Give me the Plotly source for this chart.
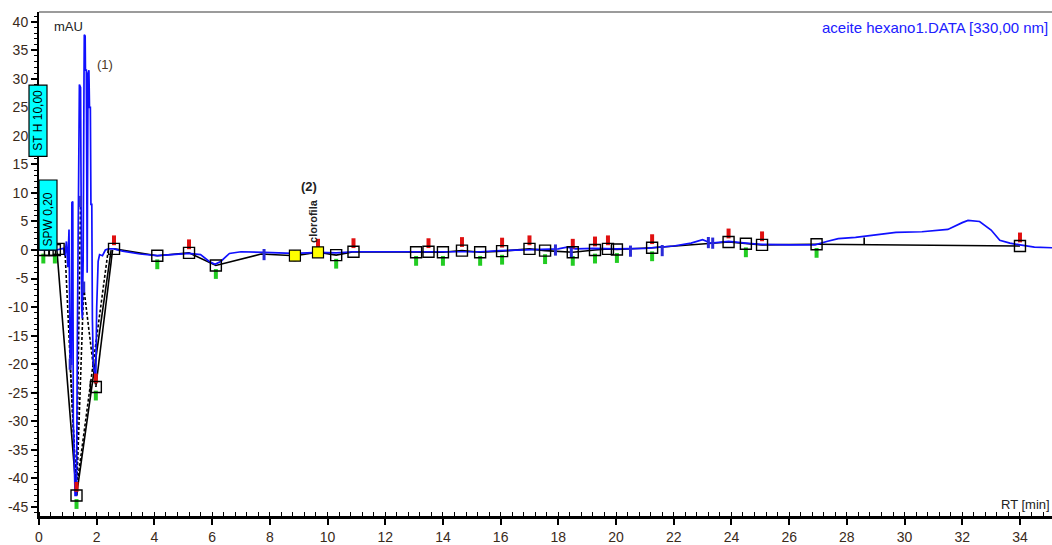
import plotly.graph_objects as go

# ---- chromatogram signal (RT in min, absorbance in mAU) ----
rt = [0.0, 0.6, 0.85, 0.90, 0.95, 1.00, 1.04, 1.05, 1.08, 1.12, 1.14, 1.17,
      1.19, 1.25, 1.30, 1.33, 1.38, 1.40, 1.44, 1.46, 1.48, 1.50, 1.53, 1.56,
      1.57, 1.60, 1.61, 1.64, 1.65, 1.67, 1.70, 1.73, 1.75, 1.78, 1.80, 1.83,
      1.85, 1.88, 1.95, 1.97, 2.00, 2.05, 2.10, 2.20, 2.30, 2.40, 2.60,
      2.9, 3.5, 4.1, 4.6, 5.2, 5.6, 5.9, 6.1, 6.3, 6.6, 7.0, 7.8,
      8.8, 9.3, 9.67, 10.3, 10.9, 12.0, 13.0, 14.0, 15.3, 16.0, 17.0, 18.0,
      18.3, 18.6, 19.2, 20.0, 21.0, 22.0, 22.6, 23.0, 23.3, 23.6, 23.9, 24.5,
      25.0, 26.0, 26.9, 27.3, 27.7, 28.3, 29.0, 29.7, 30.6, 31.5, 32.0, 32.2,
      32.6, 33.0, 33.3, 33.65, 34.0, 34.5, 35.11]
mau = [0.0, 0.0, 0.3, -1.0, 1.5, -3.0, 3.6, -9.5, -20.0, -20.0, 8.3, 8.5,
       -30.0, -43.0, -43.0, -15.0, 20.0, 29.0, 28.5, 0.0, -10.0, -12.0, -2.0, 30.0,
       37.7, 37.5, 31.5, 31.5, -4.0, -4.0, 31.0, 31.5, 25.0, 25.0, 8.0, 8.0,
       -12.0, -20.0, -22.0, -22.0, -10.0, -2.0, -0.8, -1.0, 0.0, 0.2, 0.2,
       -0.2, -0.7, -1.0, -0.8, -0.6, -0.8, -2.0, -2.5, -2.0, -0.6, -0.3, -0.4,
       -0.6, -0.5, -0.4, -0.5, -0.3, -0.3, -0.3, -0.3, -0.3, -0.1, 0.1, 0.2,
       0.5, 0.2, 0.3, 0.2, 0.3, 0.7, 1.2, 1.8, 1.2, 1.3, 1.5, 1.2,
       1.0, 0.9, 0.9, 1.5, 2.0, 2.2, 2.7, 3.1, 3.2, 3.6, 4.8, 5.2,
       5.0, 3.5, 1.7, 1.2, 0.9, 0.5, 0.4]

# ---- integration: peak start/end points and baselines ----
pt_rt = [0.15, 0.38, 0.55, 0.68, 1.30, 1.97, 2.60, 4.10, 5.20, 6.13, 10.30,
         10.90, 13.07, 13.50, 14.00, 14.66, 15.29, 16.05, 17.00, 17.54, 18.50,
         19.27, 19.72, 20.03, 21.25, 23.90, 24.50, 25.06, 26.95, 34.00]
pt_mau = [0.0, 0.0, 0.0, 0.2, -43.0, -24.0, 0.2, -1.0, -0.5, -2.7, -0.9,
          -0.3, -0.4, -0.3, -0.4, -0.1, -0.4, -0.2, 0.2, -0.1, -0.4,
          0.0, 0.2, 0.1, 0.4, 1.4, 1.1, 0.9, 1.0, 0.7]

# highlighted (identified) peak limits
hl_rt = [8.87, 9.67]
hl_mau = [-1.0, -0.4]

# baseline drawn through the integration points after the solvent front
base_rt = [2.60, 4.10, 5.20, 6.13, 7.70, 8.87, 9.67, 10.30, 10.90, 13.07, 13.50,
           14.00, 14.66, 15.29, 16.05, 17.00, 17.54, 18.50, 19.27, 19.72, 20.03,
           21.25, 23.90, 24.50, 25.06, 26.95, 34.00]
base_mau = [0.2, -1.0, -0.5, -2.7, -0.7, -1.0, -0.4, -0.9, -0.3, -0.4, -0.3,
            -0.4, -0.1, -0.4, -0.2, 0.2, -0.1, -0.4, 0.0, 0.2, 0.1,
            0.4, 1.4, 1.1, 0.9, 1.0, 0.7]

# solvent-front baselines (solid and dashed drop lines)
solid_segs = [([0.62, 1.30, 2.50], [0.0, -43.0, 0.0]),
              ([1.97, 2.55], [-24.0, 0.0])]
dash_segs = [([0.90, 1.30], [0.0, -43.0]),
             ([1.08, 1.30], [-20.0, -43.0]),
             ([1.44, 1.30], [8.5, -43.0]),
             ([1.55, 1.30], [-6.5, -43.0]),
             ([2.40, 1.35], [0.0, -40.0]),
             ([1.55, 1.97], [-6.5, -24.0])]

# peak end (red) and peak start (green) flags
end_rt = [1.30, 1.97, 2.60, 5.20, 9.67, 10.90, 13.50, 14.66, 16.05, 17.00,
          18.50, 19.27, 19.72, 21.25, 23.90, 25.06, 34.00]
end_mau = [-43.0, -24.0, 0.2, -0.5, -0.4, -0.3, -0.3, -0.1, -0.2, 0.2,
           -0.4, 0.0, 0.2, 0.4, 1.4, 0.9, 0.7]
start_rt = [0.15, 0.55, 1.30, 1.97, 4.10, 6.13, 10.30, 13.07, 14.00, 15.29,
            16.05, 17.54, 18.50, 19.27, 20.03, 21.25, 24.50, 26.95]
start_mau = [0.0, 0.0, -43.0, -24.0, -1.0, -2.7, -0.9, -0.4, -0.4, -0.4,
             -0.2, -0.1, -0.4, 0.0, 0.1, 0.4, 1.1, 1.0]

# valley / split markers
split_rt = [1.08, 1.44, 1.55, 7.80, 8.87, 17.90, 18.45, 20.50, 21.60, 23.20, 23.35]
split_mau = [-20.0, 8.5, -6.5, -0.8, -1.0, 0.0, -0.3, -0.2, -0.1, 1.3, 1.2]

# drop line under the late broad hump
drop_rt = [28.6, 28.6]
drop_mau = [1.0, 2.2]

x_ticks = list(range(0, 35, 2))
y_ticks = list(range(-45, 41, 5))
y_ticktext = [str(v) if v >= 0 else "-" + str(-v) for v in y_ticks]

FLAG_OFF = 1.5  # flag offset from the integration point, mAU

X_MAX = 35.11
Y_MIN, Y_MAX = -46.6, 41.7

fig = go.Figure()

for xs, ys in solid_segs:
    fig.add_trace(go.Scatter(x=xs, y=ys, mode="lines",
                             line=dict(color="black", width=1.6)))
for xs, ys in dash_segs:
    fig.add_trace(go.Scatter(x=xs, y=ys, mode="lines",
                             line=dict(color="black", width=1.6, dash="3px,2px")))

fig.add_trace(go.Scatter(x=base_rt, y=base_mau, mode="lines",
                         line=dict(color="black", width=1.6)))
fig.add_trace(go.Scatter(x=drop_rt, y=drop_mau, mode="lines",
                         line=dict(color="black", width=1.6)))

fig.add_trace(go.Scatter(x=rt, y=mau, mode="lines",
                         line=dict(color="#1010ff", width=1.7)))

# flags
fig.add_trace(go.Scatter(x=end_rt, y=[v + FLAG_OFF for v in end_mau], mode="markers",
                         marker=dict(symbol="line-ns", size=7,
                                     line=dict(color="#e01010", width=4))))
fig.add_trace(go.Scatter(x=start_rt, y=[v - FLAG_OFF for v in start_mau], mode="markers",
                         marker=dict(symbol="line-ns", size=7,
                                     line=dict(color="#22cc22", width=4))))
fig.add_trace(go.Scatter(x=split_rt, y=split_mau, mode="markers",
                         marker=dict(symbol="line-ns", size=8,
                                     line=dict(color="#2a2ad8", width=3))))

# integration points
fig.add_trace(go.Scatter(x=hl_rt, y=hl_mau, mode="markers",
                         marker=dict(symbol="square", size=11, color="#ffff00",
                                     line=dict(color="black", width=1.2))))
fig.add_trace(go.Scatter(x=pt_rt, y=pt_mau, mode="markers",
                         marker=dict(symbol="square-open", size=11, color="black",
                                     line=dict(width=1.4))))

FONT = "Liberation Sans, Arial, sans-serif"

# plot area geometry in pixels, used to place decorations outside the axes
L, R, T, B = 39, 1052, 12, 522


def px(xp):
    return (xp - L) / (R - L)


def py(yp):
    return (B - yp) / (B - T)


shapes = [
    dict(type="line", xref="paper", yref="paper", x0=0, x1=1, y0=1, y1=1,
         line=dict(color="#7a7a7a", width=1.5)),
    dict(type="rect", xref="paper", yref="paper",
         x0=px(29), x1=px(47), y0=py(158), y1=py(86),
         fillcolor="#00ffff", line=dict(color="black", width=1.2), layer="above"),
    dict(type="rect", xref="paper", yref="paper",
         x0=px(39), x1=px(57), y0=py(253), y1=py(182),
         fillcolor="#00ffff", line=dict(color="black", width=1.2), layer="above"),
]

annotations = [
    dict(text="mAU", xref="paper", yref="paper", x=px(52), y=py(27),
         xanchor="left", yanchor="middle", showarrow=False,
         font=dict(family=FONT, size=13, color="#222222")),
    dict(text="RT [min]", xref="paper", yref="paper", x=1.0, y=py(510),
         xanchor="right", yanchor="middle", showarrow=False,
         font=dict(family=FONT, size=13, color="#222222")),
    dict(text="aceite hexano1.DATA [330,00 nm]", xref="paper", yref="paper",
         x=px(1050), y=py(28), xanchor="right", yanchor="middle", showarrow=False,
         font=dict(family=FONT, size=15, color="#2020ff")),
    dict(text="(1)", x=2.3, y=32.5, xanchor="center", yanchor="middle",
         showarrow=False, font=dict(family=FONT, size=13, color="#4a3826")),
    dict(text="<b>(2)</b>", x=9.35, y=11.2, xanchor="center", yanchor="middle",
         showarrow=False, font=dict(family=FONT, size=13, color="#222222")),
    dict(text="<b>clorofila</b>", x=9.5, y=0.9, xanchor="center", yanchor="bottom",
         textangle=-90, showarrow=False,
         font=dict(family=FONT, size=11, color="#222222")),
    dict(text="ST H 10,00", xref="paper", yref="paper", x=px(38), y=py(122),
         xanchor="center", yanchor="middle", textangle=-90, showarrow=False,
         font=dict(family=FONT, size=12, color="black")),
    dict(text="SPW 0,20", xref="paper", yref="paper", x=px(48), y=py(222),
         xanchor="center", yanchor="middle", textangle=-90, showarrow=False,
         font=dict(family=FONT, size=12, color="black")),
]

fig.update_layout(
    width=1052, height=545, autosize=False,
    margin=dict(l=L, r=1052 - R, t=T, b=545 - B, pad=0),
    plot_bgcolor="white", paper_bgcolor="white",
    showlegend=False,
    shapes=shapes, annotations=annotations,
    xaxis=dict(range=[0, X_MAX], tickvals=x_ticks, ticks="outside", ticklen=6,
               tickwidth=1.5, tickcolor="black", showline=True, linecolor="black",
               linewidth=2.5, showgrid=False, zeroline=False,
               tickfont=dict(family=FONT, size=14, color="#3a2a1a"),
               minor=dict(dtick=0.4, tick0=0, ticks="inside", ticklen=4,
                          tickcolor="black", tickwidth=1)),
    yaxis=dict(range=[Y_MIN, Y_MAX], tickvals=y_ticks, ticktext=y_ticktext,
               ticks="outside", ticklen=6, tickwidth=1.5, tickcolor="black",
               showline=True, linecolor="black", linewidth=2, showgrid=False,
               zeroline=False,
               tickfont=dict(family=FONT, size=14, color="#3a2a1a"),
               minor=dict(dtick=1, tick0=0, ticks="outside", ticklen=3,
                          tickcolor="black", tickwidth=1)),
)

fig.write_html("out.html")
